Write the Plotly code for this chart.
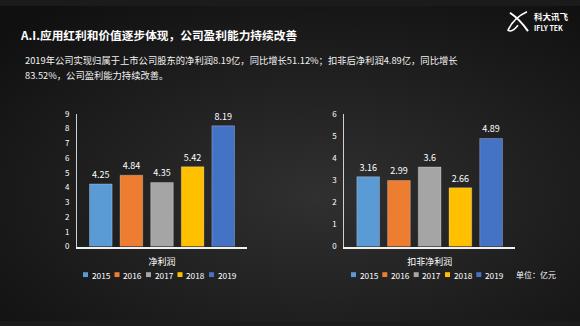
import plotly.graph_objects as go

W, H = 580, 326

years = ["2015", "2016", "2017", "2018", "2019"]
colors = ["#5B9BD5", "#ED7D31", "#A5A5A5", "#FFC000", "#4472C4"]
net_profit = [4.25, 4.84, 4.35, 5.42, 8.19]
deducted_profit = [3.16, 2.99, 3.6, 2.66, 4.89]
cat_left = "净利润"
cat_right = "扣非净利润"

title = "A.I.应用红利和价值逐步体现，公司盈利能力持续改善"
body1 = "2019年公司实现归属于上市公司股东的净利润8.19亿，同比增长51.12%；扣非后净利润4.89亿，同比增长"
body2 = "83.52%，公司盈利能力持续改善。"
unit = "单位：亿元"

FONT = "Noto Sans CJK SC, Noto Sans, sans-serif"

def px(x):
    return x / W

def py(y):
    return 1 - y / H

fig = go.Figure()

for i, y in enumerate(years):
    fig.add_trace(go.Bar(
        x=[cat_left], y=[net_profit[i]], name=y, xaxis="x", yaxis="y",
        marker=dict(color=colors[i], line=dict(color="rgba(255,255,255,0.25)", width=1)),
        text=[f"{net_profit[i]:g}"], textposition="outside", cliponaxis=False,
        textfont=dict(color="white", size=9, family=FONT), showlegend=False,
    ))
    fig.add_trace(go.Bar(
        x=[cat_right], y=[deducted_profit[i]], name=y, xaxis="x2", yaxis="y2",
        marker=dict(color=colors[i], line=dict(color="rgba(255,255,255,0.25)", width=1)),
        text=[f"{deducted_profit[i]:g}"], textposition="outside", cliponaxis=False,
        textfont=dict(color="white", size=9, family=FONT), showlegend=False,
    ))

ydom = [py(249), py(111.7)]
xaxis_common = dict(showgrid=False, zeroline=False, showline=True, linecolor="#f0f0f0",
                    linewidth=1.5, ticks="", tickfont=dict(color="white", size=9, family=FONT),
                    ticklabelstandoff=6, fixedrange=True)
yaxis_common = dict(showgrid=False, zeroline=False, showline=True, linecolor="#d0d0d0",
                    linewidth=1, ticks="", dtick=1, tickfont=dict(color="white", size=8, family=FONT),
                    ticklabelstandoff=5, fixedrange=True)

# background gradient via inline SVG
svg = ("data:image/svg+xml;utf8,<svg xmlns='http://www.w3.org/2000/svg' width='580' height='326'>"
       "<defs><radialGradient id='g' cx='55%25' cy='60%25' r='75%25'>"
       "<stop offset='0' stop-color='%23303030'/><stop offset='1' stop-color='%23101010'/>"
       "</radialGradient></defs><rect width='580' height='326' fill='url(%23g)'/></svg>")

annotations = [
    dict(text=f"<b>{title}</b>", x=px(18), y=py(29), xanchor="left", yanchor="middle",
         font=dict(color="white", size=11.7, family=FONT)),
    dict(text=body1, x=px(23), y=py(56), xanchor="left", yanchor="middle",
         font=dict(color="#f2f2f2", size=9.3, family=FONT)),
    dict(text=body2, x=px(23), y=py(71), xanchor="left", yanchor="middle",
         font=dict(color="#f2f2f2", size=9.3, family=FONT)),
    dict(text=unit, x=px(514), y=py(278), xanchor="left", yanchor="middle",
         font=dict(color="white", size=8, family=FONT)),
    dict(text="<b>科大讯飞</b>", x=px(532), y=py(10), xanchor="left", yanchor="middle",
         font=dict(color="white", size=8.5, family=FONT)),
    dict(text="<b>IFLY TEK</b>", x=px(532), y=py(22.5), xanchor="left", yanchor="middle",
         font=dict(color="white", size=7, family=FONT)),
]

shapes = []
legend_left = [83, 114.5, 146, 177.5, 209]
legend_right = [351, 382.3, 413.7, 445, 476.3]
for starts in (legend_left, legend_right):
    for i, x0 in enumerate(starts):
        shapes.append(dict(type="rect", xref="paper", yref="paper",
                           x0=px(x0), x1=px(x0 + 5), y0=py(280.5), y1=py(275.5),
                           fillcolor=colors[i], line=dict(width=0)))
        annotations.append(dict(text=years[i], x=px(x0 + 6.5), y=py(278), xanchor="left",
                                yanchor="middle", font=dict(color="white", size=8.3, family=FONT)))

# simple logo mark
shapes.append(dict(type="path", xref="paper", yref="paper",
                   path=f"M {px(510)},{py(7)} Q {px(520)},{py(14)} {px(528)},{py(26)}",
                   line=dict(color="white", width=2)))
shapes.append(dict(type="path", xref="paper", yref="paper",
                   path=f"M {px(527)},{py(6)} Q {px(514)},{py(12)} {px(508)},{py(25)} Q {px(512)},{py(28)} {px(518)},{py(20)}",
                   line=dict(color="white", width=1.5)))

for a in annotations:
    a.update(xref="paper", yref="paper", showarrow=False)

fig.update_layout(
    width=W, height=H, margin=dict(l=0, r=0, t=0, b=0),
    paper_bgcolor="#1b1b1b", plot_bgcolor="rgba(0,0,0,0)",
    barmode="group", bargap=0.1, bargroupgap=0.26,
    showlegend=False,
    xaxis=dict(domain=[px(77), px(247)], anchor="y", **xaxis_common),
    yaxis=dict(domain=ydom, anchor="x", range=[0, 9], **yaxis_common),
    xaxis2=dict(domain=[px(344.3), px(515)], anchor="y2", **xaxis_common),
    yaxis2=dict(domain=ydom, anchor="x2", range=[0, 6], **yaxis_common),
    images=[dict(source=svg, xref="paper", yref="paper", x=0, y=1, sizex=1, sizey=1,
                 sizing="stretch", layer="below", xanchor="left", yanchor="top")],
    annotations=annotations, shapes=shapes,
    font=dict(family=FONT, color="white"),
)

fig.write_html("out.html", config={"displayModeBar": False})
